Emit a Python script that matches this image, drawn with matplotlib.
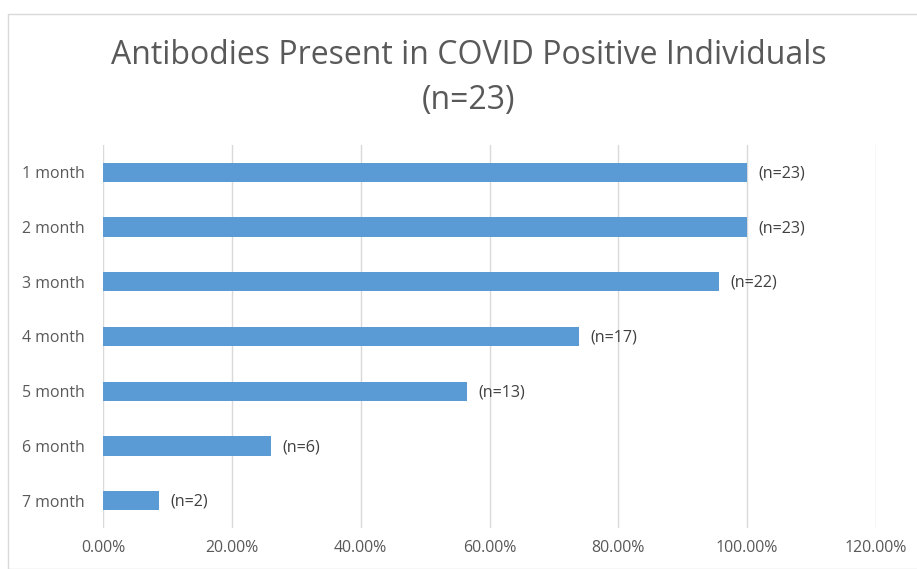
import matplotlib
matplotlib.use("Agg")
import matplotlib.pyplot as plt
from matplotlib.patches import Rectangle
from matplotlib.ticker import FuncFormatter, MultipleLocator

categories = ["1 month", "2 month", "3 month", "4 month", "5 month", "6 month", "7 month"]
counts = [23, 23, 22, 17, 13, 6, 2]
total = 23
percent = [c / total * 100 for c in counts]
labels = [f"(n={c})" for c in counts]

plt.rcParams['font.family'] = ['Open Sans', 'DejaVu Sans']
fig = plt.figure(figsize=(9.17, 5.69), dpi=100)
fig.patches.append(Rectangle((8/917, 0), 1.2, 1 - 14/569, transform=fig.transFigure,
                             fill=False, edgecolor='#d9d9d9', linewidth=1))
ax = fig.add_axes([103/917, 1 - 528/569, (876-103)/917, (528-145)/569])

y = list(range(len(categories)))
ax.barh(y, percent, height=0.35, color='#5b9bd5', zorder=3)
for yi, p, lab in zip(y, percent, labels):
    ax.text(p + 1.8, yi + 0.02, lab, va='center', ha='left', fontsize=11.6, color='#404040')

ax.set_xlim(0, 120)
ax.set_ylim(len(categories) - 0.5, -0.5)
ax.set_yticks(y)
ax.set_yticklabels(categories, fontsize=11.4, color='#595959')
ax.xaxis.set_major_locator(MultipleLocator(20))
ax.xaxis.set_major_formatter(FuncFormatter(lambda v, _: f"{v:.2f}%"))
ax.tick_params(axis='x', labelsize=11.4, labelcolor='#595959', length=0, pad=9)
ax.tick_params(axis='y', length=0, pad=13)
ax.grid(axis='x', color='#d9d9d9', linewidth=1, zorder=0)
for s in ax.spines.values():
    s.set_visible(False)

fig.text(469/917, 1 - 55/569, "Antibodies Present in COVID Positive Individuals",
         ha='center', va='center', fontsize=23, color='#595959')
fig.text(469/917, 1 - 100/569, "(n=23)", ha='center', va='center', fontsize=23, color='#595959')

fig.savefig("out.png", dpi=100)
